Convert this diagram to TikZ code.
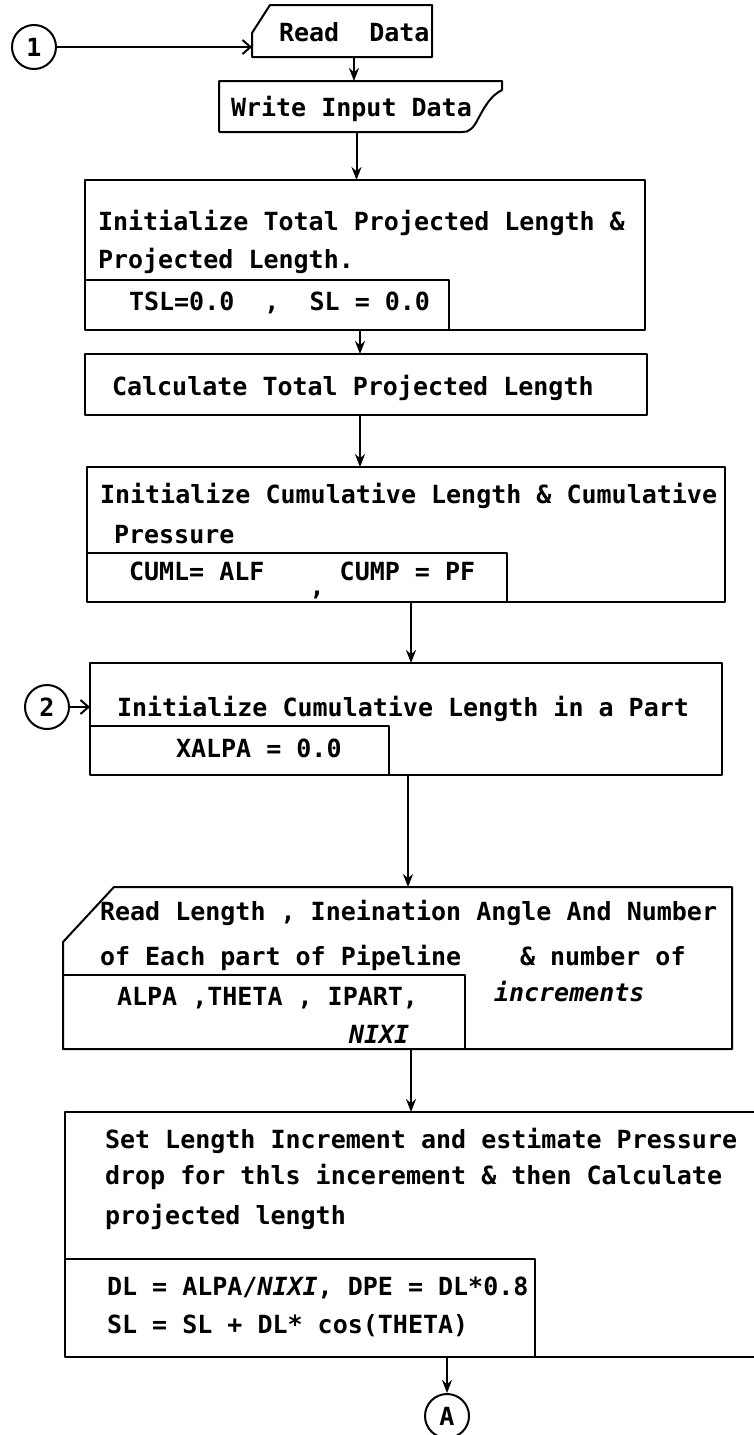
\documentclass[tikz,border=0pt]{standalone}
\usepackage{fontspec}
\newfontfamily\lettering{DejaVu Sans Mono}[
  BoldFont={DejaVu Sans Mono Bold},
  ItalicFont={DejaVu Sans Mono Oblique},
  BoldItalicFont={DejaVu Sans Mono Bold Oblique}]
\usetikzlibrary{arrows.meta,fit}
\begin{document}
\begin{tikzpicture}[x=1pt,y=-1pt,line width=2pt,line join=round,
  frame/.style={inner sep=0pt,outer sep=0pt},
  box/.style={frame,draw},
  txt/.style={anchor=base west,yshift=-8pt,inner sep=0pt,
    font=\lettering\bfseries\fontsize{25}{30}\selectfont},
  conn/.style={circle,draw,minimum size=44pt,inner sep=0pt,
    font=\lettering\bfseries\fontsize{25}{30}\selectfont},
  flow/.style={-{Stealth[length=13pt,width=10pt]}},
  barb/.style={-{Straight Barb[length=8pt,width=14pt]}}]
\clip (0,0) rectangle (754,1435);

% ---- connector 1 and the read/write blocks
\node[conn] (c1) at (34,47) {1};
\node[frame,fit={(252,5) (432,57)}] (rd) {};
\draw (rd.south west) -- ([yshift=24pt]rd.south west)
  -- ([xshift=18pt]rd.north west) -- (rd.north east)
  -- (rd.south east) -- cycle;
\node[txt] (rdt) at (278,33) {Read\ \ Data};

\node[frame,fit={(219,81) (502,132)}] (wi) {};
\draw (wi.south west) -- (wi.north west) -- (wi.north east) -- (502,90)
  .. controls (490,96) and (484,108) .. (478,119)
  .. controls (474,127) and (469,133) .. (462,132) -- (wi.south west);
\node[txt] (wit) at (230,108) {Write Input Data};

\draw[barb] (c1.east) -- (c1.east -| rd.west);
\draw[flow] ([xshift=12pt]rd.south) -- ([xshift=12pt]rd.south |- wi.north);

% ---- initialise total projected length
\node[box,fit={(85,180) (645,330)}] (init) {};
\draw (85,280) -| (449,330);
\node[txt] (it1) at (97,222) {Initialize Total Projected Length \&};
\node[txt] (it2) at (97,260) {Projected Length.};
\node[txt] (it3) at (128,302) {TSL=0.0\ \ ,\ \ SL = 0.0};
\draw[flow] ([xshift=-4pt]wi.south) -- ([xshift=-4pt]wi.south |- init.north);

% ---- calculate total projected length
\node[box,fit={(85,354) (647,415)}] (calc) {};
\node[txt] (ct) at (111,387) {Calculate Total Projected Length};
\draw[flow] ([xshift=-5pt]init.south) -- ([xshift=-5pt]init.south |- calc.north);

% ---- initialise cumulative length and pressure
\node[box,fit={(87,467) (725,602)}] (cum) {};
\draw (87,553) -| (507,602);
\node[txt] (cu1) at (99,495) {Initialize Cumulative Length \& Cumulative};
\node[txt] (cu2) at (113,535) {Pressure};
\node[txt] (cu3) at (128,572) {CUML= ALF\ \ \ \raisebox{-0.6em}{,}\ CUMP = PF};
\draw[flow] ([xshift=-6pt]calc.south) -- ([xshift=-6pt]calc.south |- cum.north);

% ---- connector 2 and the part initialisation
\node[conn] (c2) at (47,707) {2};
\node[box,fit={(90,663) (722,775)}] (part) {};
\draw (90,726) -| (389,775);
\node[txt] (pt1) at (116,708) {Initialize Cumulative Length in a Part};
\node[txt] (pt2) at (175,749) {XALPA = 0.0};
\draw[barb] (c2.east) -- (c2.east -| part.west);
\draw[flow] ([xshift=5pt]cum.south) -- ([xshift=5pt]cum.south |- part.north);

% ---- read geometry of each part
\node[frame,fit={(63,887) (732,1049)}] (rl) {};
\draw ([xshift=51pt]rl.north west) -- (rl.north east) -- (rl.south east)
  -- (rl.south west) -- ([yshift=-55pt]rl.north west) -- cycle;
\draw (63,975) -| (465,1049);
\node[txt] (rl1) at (99,912) {Read Length , Ineination Angle And Number};
\node[txt] (rl2) at (99,957) {of Each part of Pipeline};
\node[txt] (rl3) at (519,957) {\& number of};
\node[txt] (rl4) at (116,997) {ALPA ,THETA , IPART,};
\node[txt] (rl5) at (493,993) {\itshape increments};
\node[txt] (rl6) at (348,1035) {\itshape NIXI};
\draw[flow] ([xshift=2pt]part.south) -- ([xshift=2pt]part.south |- rl.north);

% ---- length increment and projected length
\node[box,fit={(65,1112) (770,1357)}] (set) {};
\draw (65,1259) -| (535,1357);
\node[txt] (st1) at (104,1140) {Set Length Increment and estimate Pressure};
\node[txt] (st2) at (104,1176) {drop for thls incerement \& then Calculate};
\node[txt] (st3) at (104,1216) {projected length};
\node[txt] (st4) at (106,1287) {DL = ALPA/\textit{NIXI}, DPE = DL*0.8};
\node[txt] (st5) at (106,1325) {SL = SL + DL* cos(THETA)};
\draw[flow] ([xshift=13.5pt]rl.south) -- ([xshift=13.5pt]rl.south |- set.north);

% ---- off-page connector A
\node[conn] (cA) at (447,1416) {A};
\draw[flow] (set.south -| cA.north) -- (cA.north);
\end{tikzpicture}
\end{document}
